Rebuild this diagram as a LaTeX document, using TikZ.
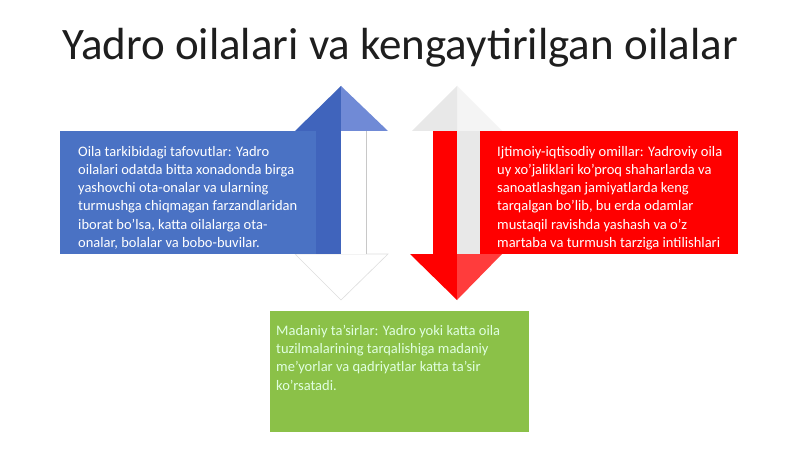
\documentclass[tikz,border=0pt]{standalone}
\usepackage{fontspec}
\setmainfont{Carlito}
\definecolor{boxblue}{RGB}{74,114,196}
\definecolor{blueshade}{RGB}{64,100,188}
\definecolor{bluelight}{RGB}{112,138,214}
\definecolor{boxred}{RGB}{255,0,0}
\definecolor{redlight}{RGB}{255,60,60}
\definecolor{greyhead}{RGB}{232,232,232}
\definecolor{greyheadlt}{RGB}{244,244,244}
\definecolor{boxgreen}{RGB}{139,193,72}
\definecolor{edgegrey}{RGB}{200,200,200}
\definecolor{titlegrey}{RGB}{30,30,30}
\tikzset{
  panel/.style={rectangle, inner sep=0pt, anchor=north west},
  paneltext/.style={inner sep=0pt, anchor=north west, align=left, font=\fontsize{14.5}{18.2}\selectfont},
  titletext/.style={inner sep=0pt, anchor=base, font=\fontsize{45}{50}\selectfont, text=titlegrey}
}
\begin{document}
\begin{tikzpicture}[x=1pt,y=-1pt]
\useasboundingbox (0,0) rectangle (800,449);
\fill[white] (0,0) rectangle (800,449);
% title
\node[titletext] (title) at (400,60) {Yadro oilalari va kengaytirilgan oilalar};
% ---- blue up/down arrow ----
\filldraw[fill=white, draw=edgegrey!60, line width=0.6pt] (295,254) -- (341,300) -- (388,254) -- cycle;
\fill[white] (341,131) rectangle (366,254);
\draw[edgegrey, line width=0.8pt] (366,131) -- (366,254);
\fill[blueshade] (341,86) -- (295,131) -- (341,131) -- cycle;
\fill[bluelight] (341,86) -- (388,131) -- (341,131) -- cycle;
% ---- red up/down arrow ----
\fill[greyheadlt] (457,86) -- (412,131) -- (502,131) -- cycle;
\fill[greyhead] (457,86) -- (412,131) -- (457,131) -- cycle;
\fill[boxred] (433,131) rectangle (457,254);
\fill[greyhead] (457,131) rectangle (482,254);
\fill[boxred] (410,254) -- (457,300) -- (457,254) -- cycle;
\fill[redlight] (457,254) -- (457,300) -- (502,254) -- cycle;
% ---- panels ----
\node[panel, fill=boxblue, minimum width=281pt, minimum height=123pt] (bluepanel) at (60,131) {};
\fill[blueshade] (316,131) rectangle (341,254);
\node[panel, fill=boxred, minimum width=258pt, minimum height=123pt] (redpanel) at (480,131) {};
\node[panel, fill=boxgreen, minimum width=259pt, minimum height=121pt] (greenpanel) at (270,311) {};
% ---- texts ----
\node[paneltext, text=white] (bluetext) at (78,146) {Oila tarkibidagi tafovutlar: Yadro\\
oilalari odatda bitta xonadonda birga\\
yashovchi ota-onalar va ularning\\
turmushga chiqmagan farzandlaridan\\
iborat bo'lsa, katta oilalarga ota-\\
onalar, bolalar va bobo-buvilar.};
\node[paneltext, text=white] (redtext) at (497,146) {Ijtimoiy-iqtisodiy omillar: Yadroviy oila\\
uy xo'jaliklari ko'proq shaharlarda va\\
sanoatlashgan jamiyatlarda keng\\
tarqalgan bo'lib, bu erda odamlar\\
mustaqil ravishda yashash va o'z\\
martaba va turmush tarziga intilishlari};
\node[paneltext, text=white!88!green] (greentext) at (276,325) {Madaniy ta'sirlar: Yadro yoki katta oila\\
tuzilmalarining tarqalishiga madaniy\\
me'yorlar va qadriyatlar katta ta'sir\\
ko'rsatadi.};
\end{tikzpicture}
\end{document}
